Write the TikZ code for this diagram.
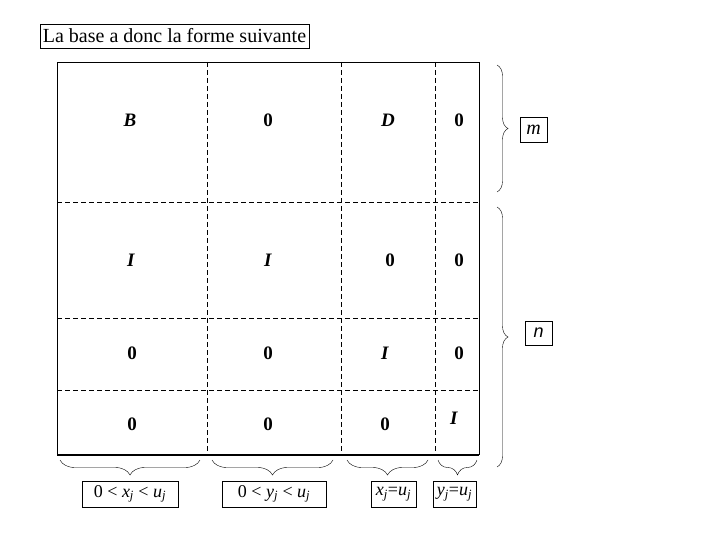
\documentclass[tikz,border=0pt]{standalone}
\usepackage{fontspec}
\setmainfont{Liberation Serif}
\newfontfamily\arialfont{Liberation Sans}
\usetikzlibrary{decorations.pathreplacing}
\newcommand{\vj}[1]{\textit{#1}\textsubscript{\textit{j}}}

\begin{document}
\begin{tikzpicture}[x=1pt, y=-1pt,
  cell/.style={font=\fontsize{19}{22}\selectfont\bfseries},
  tag/.style={draw, minimum height=25pt, inner sep=1pt, font=\fontsize{18}{21}\selectfont},
  cut/.style={dash pattern=on 5pt off 3pt},
  rbrace/.style={decorate, decoration={brace, amplitude=11pt}},
  bbrace/.style={decorate, decoration={brace, amplitude=15pt}}]
  \useasboundingbox (0,0) rectangle (720,540);
  % title box
  \node[draw, minimum width=269pt, minimum height=24pt, inner sep=0pt,
        font=\fontsize{20}{23}\selectfont] (title) at (174.5,36) {La base a donc la forme suivante};
  % frame of the matrix, bottom edge heavier
  \draw (57,455) -- (57,62) -- (479,62) -- (479,455);
  \draw[line width=1.6pt] (57,455) -- (479,455);
  % dashed block boundaries
  \foreach \x in {207,341,435}
    \draw[cut] (\x,62) -- (\x,455);
  \foreach \y in {202,318,390}
    \draw[cut] (57,\y) -- (479,\y);
  % block entries
  \foreach \x/\y/\t/\nm in {130/120/\textit{B}/b11, 268/120/0/b12, 388/120/\textit{D}/b13, 459/120/0/b14,
                            131/260/\textit{I}/b21, 268/260/\textit{I}/b22, 390/260/0/b23, 459/260/0/b24,
                            132/353/0/b31, 268/353/0/b32, 385/353/\textit{I}/b33, 459/353/0/b34,
                            132/424/0/b41, 268/424/0/b42, 385/424/0/b43, 454/418/\textit{I}/b44}
    \node[cell] (\nm) at (\x,\y) {\t};
  % row groups on the right
  \coordinate (mtop) at (497,65);  \coordinate (mbot) at (497,192);
  \coordinate (ntop) at (497,207); \coordinate (nbot) at (497,467);
  \draw[rbrace] (mtop) -- (mbot);
  \draw[rbrace] (ntop) -- (nbot);
  \node[tag, minimum width=27pt, font=\fontsize{20}{22}\selectfont] (m) at (533.5,129.5) {\textit{m}};
  \node[tag, minimum width=27pt, minimum height=24pt] (n) at (538.5,333) {\arialfont\itshape n};
  % column groups below
  \coordinate (xr) at (200,460); \coordinate (xl) at (60,460);
  \coordinate (yr) at (333,460); \coordinate (yl) at (212,460);
  \coordinate (ur) at (428,460); \coordinate (ul) at (347,460);
  \coordinate (vr) at (477,460); \coordinate (vl) at (438,460);
  \draw[bbrace] (xr) -- (xl);
  \draw[bbrace] (yr) -- (yl);
  \draw[bbrace] (ur) -- (ul);
  \draw[bbrace] (vr) -- (vl);
  \node[tag, minimum width=96pt, minimum height=26pt] (xlab) at (130,494) {0 < \vj{x} < \vj{u}};
  \node[tag, minimum width=104pt, minimum height=26pt] (ylab) at (274,494) {0 < \vj{y} < \vj{u}};
  \node[tag, minimum width=45pt, minimum height=26pt] (xeq) at (393.5,494) {\vj{x}=\vj{u}};
  \node[tag, minimum width=43pt, minimum height=26pt] (yeq) at (454.5,494) {\vj{y}=\vj{u}};
\end{tikzpicture}
\end{document}
